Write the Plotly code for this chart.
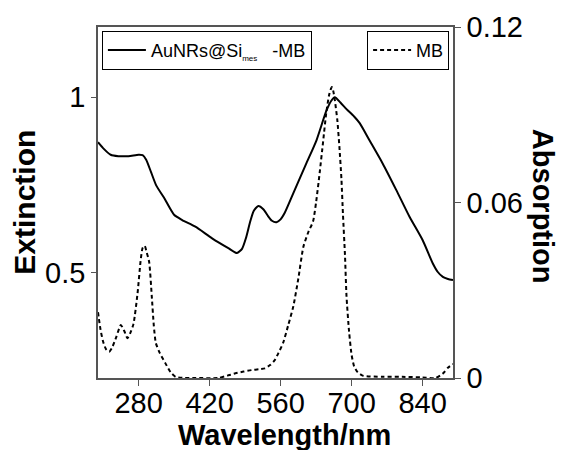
import plotly.graph_objects as go

# Extinction spectrum (AuNRs@Si_mes-MB), left axis
ext_wl = [200, 210, 225, 240, 260, 280, 288, 295, 305, 315, 330, 350, 366, 392, 425, 457, 474, 484, 492, 500,
          507, 516, 526, 535, 543, 552, 560, 568, 585, 611, 631, 650, 660, 667, 678, 690, 705, 716, 735, 761,
          788, 814, 840, 860, 870, 880, 890, 900]
ext_val = [0.872, 0.855, 0.836, 0.832, 0.832, 0.836, 0.835, 0.822, 0.785, 0.748, 0.714, 0.665, 0.650, 0.631,
           0.598, 0.570, 0.556, 0.568, 0.600, 0.645, 0.676, 0.690, 0.681, 0.662, 0.648, 0.644, 0.652, 0.670,
           0.726, 0.812, 0.878, 0.960, 0.990, 1.000, 0.985, 0.966, 0.945, 0.926, 0.878, 0.812, 0.736, 0.660,
           0.593, 0.527, 0.502, 0.488, 0.482, 0.479]

# Absorption spectrum (MB), right axis
abs_wl = [200, 205, 210, 216, 222, 228, 236, 245, 252, 258, 264, 270, 278, 284, 288, 292, 296, 301, 306, 310,
          314, 322, 333, 343, 353, 370, 392, 437, 455, 471, 487, 503, 518, 529, 540, 548, 556, 565, 575, 585,
          595, 605, 615, 624, 630, 637, 644, 650, 656, 661, 664, 667, 672, 676, 680, 683, 687, 690, 695, 700,
          705, 712, 722, 760, 800, 840, 866, 880, 890, 900]
abs_val = [0.0225, 0.0165, 0.0125, 0.0098, 0.0090, 0.0105, 0.0140, 0.0181, 0.0160, 0.0136, 0.0155, 0.0185,
           0.0290, 0.0400, 0.0445, 0.0452, 0.0430, 0.0395, 0.0280, 0.0180, 0.0120, 0.0085, 0.0050, 0.0020,
           0.0004, 0.0, 0.0, 0.0, 0.0008, 0.0016, 0.0022, 0.0027, 0.0030, 0.0033, 0.0045, 0.0060, 0.0086,
           0.0120, 0.0180, 0.0244, 0.0340, 0.0449, 0.0500, 0.0535, 0.0600, 0.0700, 0.0810, 0.0905, 0.0970,
           0.0995, 0.0980, 0.0950, 0.0880, 0.0790, 0.0680, 0.0560, 0.0420, 0.0280, 0.0160, 0.0080, 0.0040,
           0.0020, 0.0008, 0.0004, 0.0004, 0.0002, 0.0, 0.0015, 0.0035, 0.0048]

x_ticks = [280, 420, 560, 700, 840]
y1_ticks = [0.5, 1]
y1_labels = ["0.5", "1"]
y2_ticks = [0, 0.06, 0.12]
y2_labels = ["0", "0.06", "0.12"]

FONT = "Liberation Sans, Arial, sans-serif"
AX = "#555555"

fig = go.Figure()
fig.add_trace(go.Scatter(
    x=ext_wl, y=ext_val, mode="lines",
    name='AuNRs@Si<sub><span style="font-size:8px">mes</span></sub>&nbsp;&nbsp;&nbsp;-MB',
    line=dict(color="black", width=2, shape="spline", smoothing=0.6),
    legend="legend",
))
fig.add_trace(go.Scatter(
    x=abs_wl, y=abs_val, mode="lines", name="MB", yaxis="y2",
    line=dict(color="black", width=2, dash="4px,3px", shape="spline", smoothing=0.6),
    legend="legend2",
))

fig.update_layout(
    width=561, height=450,
    margin=dict(l=98, r=108, t=27, b=72),
    paper_bgcolor="white", plot_bgcolor="white",
    font=dict(family=FONT, color="black"),
    xaxis=dict(range=[200, 900], tickvals=x_ticks, ticks="outside", ticklen=6, tickcolor=AX,
               showline=True, linecolor=AX, linewidth=1.5, mirror=True, showgrid=False, zeroline=False,
               tickfont=dict(size=29, family=FONT), ticklabelstandoff=-8),
    yaxis=dict(range=[0.2, 1.2], tickvals=y1_ticks, ticktext=y1_labels, ticks="outside", ticklen=5,
               tickcolor=AX, showline=True, linecolor=AX, linewidth=1.5, showgrid=False, zeroline=False,
               tickfont=dict(size=29, family=FONT)),
    yaxis2=dict(range=[0, 0.12], tickvals=y2_ticks, ticktext=y2_labels, overlaying="y", side="right",
                ticks="outside", ticklen=6, tickcolor=AX, showline=True, linecolor=AX, linewidth=1.5,
                showgrid=False, zeroline=False, tickfont=dict(size=29, family=FONT)),
    legend=dict(x=0.011, y=0.989, xanchor="left", yanchor="top", bgcolor="white",
                bordercolor="black", borderwidth=1, font=dict(size=18, family=FONT),
                tracegroupgap=0, itemwidth=38),
    legend2=dict(x=0.989, y=0.989, xanchor="right", yanchor="top", bgcolor="white",
                 bordercolor="black", borderwidth=1, font=dict(size=18, family=FONT),
                 tracegroupgap=0, itemwidth=38),
    showlegend=True,
    annotations=[
        dict(text="<b>Wavelength/nm</b>", xref="paper", yref="paper", x=0.525, y=-0.161,
             xanchor="center", yanchor="middle", showarrow=False, font=dict(size=29, family=FONT)),
        dict(text="<b>Extinction</b>", xref="paper", yref="paper", x=-0.208, y=0.50,
             xanchor="center", yanchor="middle", textangle=-90, showarrow=False,
             font=dict(size=30, family=FONT)),
        dict(text="<b>Absorption</b>", xref="paper", yref="paper", x=1.254, y=0.49,
             xanchor="center", yanchor="middle", textangle=90, showarrow=False,
             font=dict(size=29, family=FONT)),
    ],
)

fig.write_html("out.html", config={"displayModeBar": False},
               post_script="document.body.style.margin='0';")
